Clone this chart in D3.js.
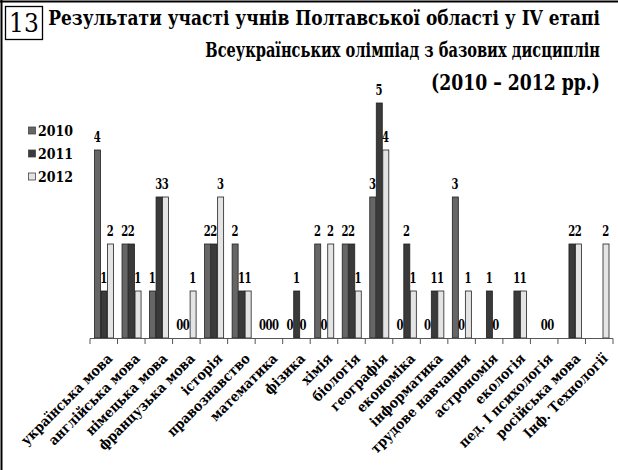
<!DOCTYPE html>
<html><head><meta charset="utf-8">
<script src="https://cdn.jsdelivr.net/npm/d3@7"></script>
<style>body{margin:0;background:#fff}svg{display:block}
.sf{font-family:"DejaVu Serif Condensed","DejaVu Serif","Liberation Serif",serif}</style>
</head><body>
<script>
const categories = ["українська мова","англійська мова","німецька мова","французька мова","історія","правознавство","математика","фізика","хімія","біологія","географія","економіка","інформатика","трудове навчання","астрономія","екологія","пед. І психологія","російська мова","Інф. Технології"];
const series = ["2010","2011","2012"];
const v2010 = [4,2,1,0,2,2,0,0,2,2,3,0,0,3,null,null,null,null,null];
const v2011 = [1,2,3,0,2,1,0,1,0,2,5,2,1,0,1,1,0,2,null];
const v2012 = [2,1,3,1,3,1,0,0,2,1,4,1,1,1,0,1,0,2,2];
const titleLines = ["Результати участі учнів Полтавської області у IV етапі","Всеукраїнських олімпіад з базових дисциплін","(2010 – 2012 рр.)"];
const colors = ["#666666","#3a3a3a","#e4e4e4"];

const W=618,H=470;
const svg=d3.select("body").append("svg").attr("width",W).attr("height",H);

// frame
svg.append("line").attr("x1",1.5).attr("x2",1.5).attr("y1",0).attr("y2",H).attr("stroke","#000").attr("stroke-width",2);
svg.append("line").attr("x1",0).attr("x2",W).attr("y1",1.5).attr("y2",1.5).attr("stroke","#000").attr("stroke-width",2);

// number box
svg.append("rect").attr("x",5.5).attr("y",6.5).attr("width",37).attr("height",33).attr("fill","none").attr("stroke","#000").attr("stroke-width",1.3);
svg.append("text").attr("class","sf").attr("x",24).attr("y",32).attr("text-anchor","middle").attr("font-size",26).text("13");

// title (horizontally condensed to fit, right-aligned at x=600)
const tl=[{y:25,x0:48},{y:57,x0:205},{y:90,x0:431}];
titleLines.forEach((t,i)=>{
  const txt=svg.append("text").attr("class","sf").attr("x",0).attr("y",0).attr("font-weight","bold")
    .attr("font-size",i==2?22:20).text(t);
  const nat=txt.node().getComputedTextLength();
  const sx=Math.min(1,(600-tl[i].x0)/nat);
  txt.attr("text-anchor","end").attr("transform",`translate(600,${tl[i].y}) scale(${sx},1)`);
});

const data=categories.map((c,i)=>({cat:c,vals:[v2010[i],v2011[i],v2012[i]]}));
const x0=d3.scaleBand().domain(categories).range([90,613]).paddingInner(0.29).paddingOuter(0.145);
const x1=d3.scaleBand().domain(series).range([0,x0.bandwidth()]);
const y=d3.scaleLinear().domain([0,5]).range([338,103]);

const g=svg.append("g");
const grp=g.selectAll("g.grp").data(data).join("g").attr("transform",d=>`translate(${x0(d.cat)},0)`);
grp.selectAll("rect").data(d=>d.vals.map((v,k)=>({v,k})).filter(e=>e.v!==null&&e.v>0)).join("rect")
  .attr("x",e=>x1(series[e.k])+0.5).attr("y",e=>y(e.v)).attr("width",x1.bandwidth()-0.5).attr("height",e=>y(0)-y(e.v))
  .attr("fill",e=>colors[e.k]).attr("stroke","#222").attr("stroke-width",0.8);
grp.selectAll("text").data(d=>d.vals.map((v,k)=>({v,k})).filter(e=>e.v!==null)).join("text").attr("class","sf")
  .attr("x",e=>x1(series[e.k])+x1.bandwidth()/2).attr("y",e=>y(e.v)-8.5)
  .attr("text-anchor","middle").attr("font-weight","bold").attr("font-size",15)
  .attr("textLength",7).attr("lengthAdjust","spacingAndGlyphs").text(e=>e.v);

// axis
svg.append("line").attr("x1",90).attr("x2",613).attr("y1",338.5).attr("y2",338.5).attr("stroke","#555").attr("stroke-width",1);
const step=x0.step();
svg.selectAll("line.tick").data(d3.range(categories.length+1)).join("line").attr("class","tick")
  .attr("x1",i=>90+i*step).attr("x2",i=>90+i*step).attr("y1",338.5).attr("y2",344).attr("stroke","#555");
svg.selectAll("text.cat").data(categories).join("text").attr("class","cat sf")
  .attr("transform",c=>`translate(${x0(c)+x0.bandwidth()/2+6},356) rotate(-45)`)
  .attr("text-anchor","end").attr("dy","0.35em").attr("font-weight","bold").attr("font-size",14).text(c=>c);

// legend
series.forEach((s,i)=>{
  const ly=131+i*23;
  svg.append("rect").attr("x",28.5).attr("y",ly-4).attr("width",7).attr("height",7).attr("fill",colors[i]).attr("stroke","#444").attr("stroke-width",0.8);
  svg.append("text").attr("class","sf").attr("x",38).attr("y",ly+5).attr("font-weight","bold").attr("font-size",14).text(s);
});
</script>
</body></html>
